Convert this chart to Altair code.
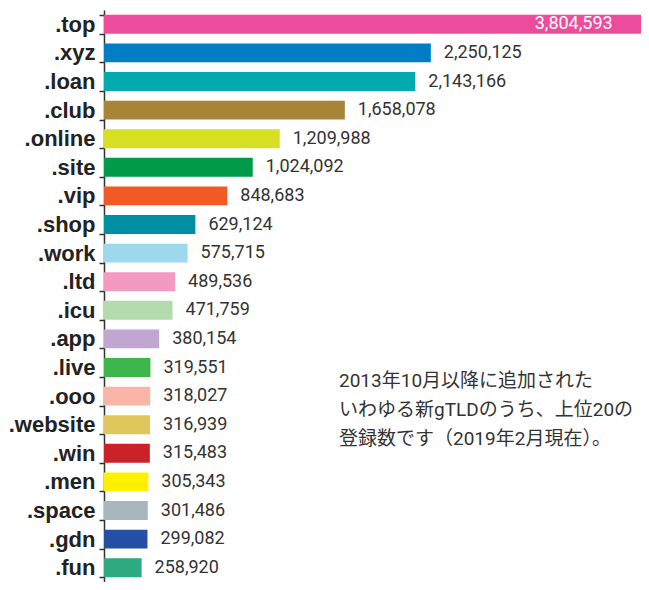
import altair as alt
import pandas as pd

tlds = [".top", ".xyz", ".loan", ".club", ".online", ".site", ".vip", ".shop", ".work", ".ltd",
        ".icu", ".app", ".live", ".ooo", ".website", ".win", ".men", ".space", ".gdn", ".fun"]
values = [3804593, 2250125, 2143166, 1658078, 1209988, 1024092, 848683, 629124, 575715, 489536,
          471759, 380154, 319551, 318027, 316939, 315483, 305343, 301486, 299082, 258920]
colors = ["#EC4C9B", "#007DC5", "#00AAAD", "#A78536", "#D7DF23", "#009B48", "#F15A24", "#008FA0",
          "#9ED8EC", "#F49AC1", "#B3DBAD", "#C0A6D0", "#3CB54A", "#F9B6A8", "#E1C75B", "#CB2229",
          "#FFF000", "#A7B7BD", "#2350A2", "#2EAA80"]
note_lines = ["2013年10月以降に追加された", "いわゆる新gTLDのうち、上位20の", "登録数です（2019年2月現在）。"]

df = pd.DataFrame({"tld": tlds, "value": values})

x_enc = alt.X("value:Q", axis=None,
              scale=alt.Scale(domain=[0, 3697000], nice=False, zero=True))
y_enc = alt.Y("tld:N", sort=tlds, title=None,
              scale=alt.Scale(paddingInner=0.34, paddingOuter=0.17),
              axis=alt.Axis(labelFont="Liberation Sans", labelFontSize=22, labelFontWeight="bold",
                            labelColor="#222222", domainColor="#333333", tickColor="#333333",
                            domainWidth=1.5, tickWidth=1.5, tickSize=5, labelPadding=4,
                            tickBand="extent"))

base = alt.Chart(df)

bars = base.mark_bar(clip=True).encode(
    x=x_enc, y=y_enc,
    color=alt.Color("tld:N", scale=alt.Scale(domain=tlds, range=colors), legend=None),
)

labels_out = base.transform_filter(alt.datum.value <= 3000000).mark_text(
    align="left", baseline="middle", dx=13, font="Roboto", fontSize=18, color="#333333"
).encode(x="value:Q", y=alt.Y("tld:N", sort=tlds), text=alt.Text("value:Q", format=","))

labels_in = base.transform_filter(alt.datum.value > 3000000).mark_text(
    align="right", baseline="middle", dx=-44, font="Roboto", fontSize=18, color="#FFFFFF"
).encode(x="value:Q", y=alt.Y("tld:N", sort=tlds), text=alt.Text("value:Q", format=","))

note = alt.Chart(pd.DataFrame({"k": [0]})).mark_text(
    align="left", baseline="middle", font="Roboto, Noto Sans CJK JP", fontSize=19, lineHeight=29,
    color="#333333"
).encode(x=alt.value(235), y=alt.value(371), text=alt.value(note_lines))

chart = alt.layer(bars, labels_out, labels_in, note).properties(
    width=537, height=572,
    autosize=alt.AutoSizeParams(type="none"),
    padding={"left": 96, "top": 2, "right": 0, "bottom": 0},
).configure_view(stroke=None)

chart.save("out.html", embed_options={"renderer": "svg", "actions": False})
